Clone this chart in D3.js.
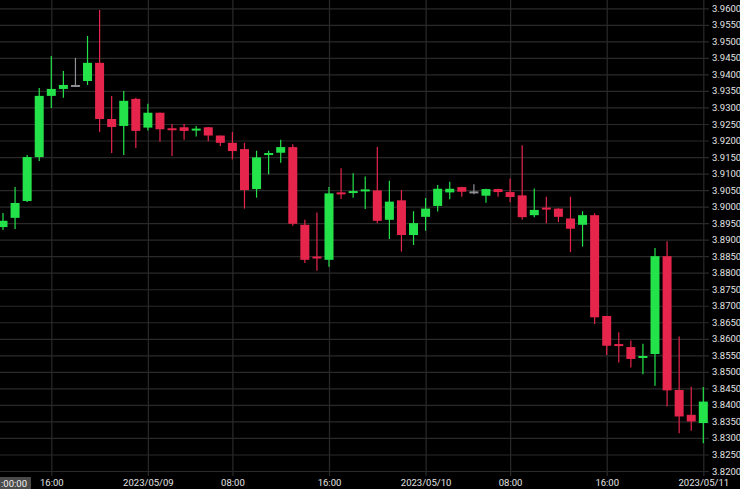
<!DOCTYPE html>
<html>
<head>
<meta charset="utf-8">
<script src="https://cdn.jsdelivr.net/npm/d3@7/dist/d3.min.js"></script>
<style>
  html, body { margin: 0; padding: 0; background: #000; }
  svg { display: block; }
</style>
</head>
<body>
<svg id="chart" width="740" height="489"></svg>
<script>
// ---- Data ----
const times = [
  "2023-05-08 12:00","2023-05-08 13:00","2023-05-08 14:00","2023-05-08 15:00","2023-05-08 16:00","2023-05-08 17:00",
  "2023-05-08 18:00","2023-05-08 19:00","2023-05-08 20:00","2023-05-08 21:00","2023-05-08 22:00","2023-05-08 23:00",
  "2023-05-09 00:00","2023-05-09 01:00","2023-05-09 02:00","2023-05-09 03:00","2023-05-09 04:00","2023-05-09 06:00",
  "2023-05-09 07:00","2023-05-09 08:00","2023-05-09 09:00","2023-05-09 10:00","2023-05-09 11:00","2023-05-09 12:00",
  "2023-05-09 13:00","2023-05-09 14:00","2023-05-09 15:00","2023-05-09 16:00","2023-05-09 17:00","2023-05-09 18:00",
  "2023-05-09 19:00","2023-05-09 20:00","2023-05-09 21:00","2023-05-09 22:00","2023-05-09 23:00",
  "2023-05-10 00:00","2023-05-10 01:00","2023-05-10 02:00","2023-05-10 03:00","2023-05-10 04:00","2023-05-10 06:00",
  "2023-05-10 07:00","2023-05-10 08:00","2023-05-10 09:00","2023-05-10 10:00","2023-05-10 11:00","2023-05-10 12:00",
  "2023-05-10 13:00","2023-05-10 14:00","2023-05-10 15:00","2023-05-10 16:00","2023-05-10 17:00","2023-05-10 18:00",
  "2023-05-10 19:00","2023-05-10 20:00","2023-05-10 21:00","2023-05-10 22:00","2023-05-10 23:00",
  "2023-05-11 00:00"
];
const open  = [3.8938,3.8966,3.9017,3.9150,3.9335,3.9356,3.9365,3.9380,3.9435,3.9265,3.9244,3.9326,3.9239,3.9284,3.9234,3.9240,3.9228,3.9240,3.9215,3.9193,3.9174,3.9053,3.9154,3.9163,3.9180,3.8945,3.8846,3.8839,3.9040,3.9039,3.9044,3.9049,3.8960,3.9019,3.8914,3.8969,3.9002,3.9043,3.9059,3.9043,3.9033,3.9053,3.9044,3.9034,3.8974,3.8994,3.8994,3.8964,3.8945,3.8974,3.8669,3.8581,3.8575,3.8540,3.8554,3.8850,3.8445,3.8370,3.8345];
const high  = [3.8981,3.9059,3.9156,3.9359,3.9456,3.9410,3.9450,3.9516,3.9595,3.9335,3.9350,3.9329,3.9311,3.9285,3.9250,3.9250,3.9244,3.9241,3.9215,3.9226,3.9193,3.9169,3.9169,3.9202,3.9189,3.8960,3.8982,3.9059,3.9116,3.9101,3.9091,3.9180,3.9078,3.9050,3.8986,3.9026,3.9065,3.9075,3.9060,3.9068,3.9054,3.9054,3.9085,3.9186,3.9055,3.9030,3.8995,3.9030,3.8986,3.8980,3.8670,3.8620,3.8595,3.8585,3.8875,3.8895,3.8607,3.8455,3.8454];
const low   = [3.8929,3.8932,3.9014,3.9138,3.9298,3.9329,3.9362,3.9368,3.9226,3.9162,3.9156,3.9177,3.9230,3.9196,3.9153,3.9202,3.9212,3.9198,3.9183,3.9143,3.8994,3.9027,3.9098,3.9133,3.8942,3.8829,3.8806,3.8818,3.9023,3.9027,3.8993,3.8950,3.8902,3.8864,3.8884,3.8927,3.8985,3.9022,3.9030,3.9037,3.9012,3.9030,3.9013,3.8960,3.8968,3.8950,3.8953,3.8862,3.8879,3.8645,3.8551,3.8528,3.8513,3.8493,3.8458,3.8395,3.8314,3.8322,3.8284];
const close = [3.8957,3.9011,3.9150,3.9335,3.9356,3.9368,3.9365,3.9435,3.9265,3.9241,3.9320,3.9229,3.9284,3.9234,3.9229,3.9229,3.9233,3.9215,3.9193,3.9168,3.9050,3.9149,3.9159,3.9180,3.8948,3.8839,3.8841,3.9040,3.9034,3.9044,3.9049,3.8957,3.9015,3.8914,3.8950,3.8994,3.9054,3.9054,3.9045,3.9043,3.9053,3.9044,3.9029,3.8968,3.8990,3.8989,3.8969,3.8933,3.8974,3.8665,3.8579,3.8575,3.8539,3.8545,3.8850,3.8444,3.8365,3.8350,3.8410];

const yTicks = [3.8200,3.8250,3.8300,3.8350,3.8400,3.8450,3.8500,3.8550,3.8600,3.8650,3.8700,3.8750,3.8800,3.8850,
                3.8900,3.8950,3.9000,3.9050,3.9100,3.9150,3.9200,3.9250,3.9300,3.9350,3.9400,3.9450,3.9500,3.9550,3.9600];
const xTickTimes  = ["2023-05-08 16:00","2023-05-09 00:00","2023-05-09 08:00","2023-05-09 16:00","2023-05-10 00:00","2023-05-10 08:00","2023-05-10 16:00","2023-05-11 00:00"];
const xTickLabels = ["16:00","2023/05/09","08:00","16:00","2023/05/10","08:00","16:00","2023/05/11"];
const cursorLabel = ":00:00";

// ---- Layout ----
const W = 740, H = 489;
const plotRight = 709, plotBottom = 476;
const UP = "#24e34a", DOWN = "#e6254c", FLAT = "#8e9096";
const GRID = "#2a2a2a";

const svg = d3.select("#chart");
svg.append("rect").attr("width", W).attr("height", H).attr("fill", "#000");

const x = d3.scalePoint().domain(times).range([3, 703.3]);
const y = d3.scaleLinear().domain([3.82, 3.96]).range([471, 8.3]);

// horizontal grid
const hg = svg.append("g").attr("transform", `translate(${plotRight},0)`)
  .call(d3.axisLeft(y).tickValues(yTicks).tickSize(plotRight).tickFormat(""));
hg.select(".domain").remove();
hg.selectAll("line").attr("stroke", GRID).attr("stroke-width", 1.2);

// vertical grid
const vg = svg.append("g").attr("transform", `translate(0,${plotBottom})`)
  .call(d3.axisTop(x).tickValues(xTickTimes).tickSize(plotBottom).tickFormat(""));
vg.select(".domain").remove();
vg.selectAll("line").attr("stroke", GRID).attr("stroke-width", 1.2);

// y axis labels
const ya = svg.append("g").attr("transform", `translate(${plotRight},0)`)
  .call(d3.axisRight(y).tickValues(yTicks).tickSize(0).tickPadding(3).tickFormat(d3.format(".4f")));
ya.select(".domain").remove();
ya.selectAll("text").attr("fill", "#e4e4e4").attr("font-family", "Roboto, sans-serif").attr("font-size", "9.5px");

// x axis labels
const labelMap = new Map(xTickTimes.map((t, i) => [t, xTickLabels[i]]));
const xa = svg.append("g").attr("transform", `translate(0,${plotBottom})`)
  .call(d3.axisBottom(x).tickValues(xTickTimes).tickSize(0).tickPadding(3).tickFormat(t => labelMap.get(t)));
xa.select(".domain").remove();
xa.selectAll("text").attr("fill", "#e4e4e4").attr("font-family", "Roboto, sans-serif").attr("font-size", "9.5px");

// cursor time label at left
svg.append("rect").attr("x", 0).attr("y", 477).attr("width", 31).attr("height", 12).attr("fill", "#4a4a4a");
svg.append("text").attr("x", 27).attr("y", 486.5).attr("text-anchor", "end")
  .attr("fill", "#f0f0f0").attr("font-family", "Roboto, sans-serif").attr("font-size", "9.5px").text(cursorLabel);

// candles
const data = times.map((t, i) => ({t, o: open[i], h: high[i], l: low[i], c: close[i]}));
const color = d => d.c > d.o ? UP : (d.c < d.o ? DOWN : FLAT);
const bodyW = 9;
const cg = svg.append("g");
const candle = cg.selectAll("g.candle").data(data).join("g").attr("class", "candle");
candle.append("line")
  .attr("x1", d => x(d.t)).attr("x2", d => x(d.t))
  .attr("y1", d => y(d.h)).attr("y2", d => y(d.l))
  .attr("stroke", color).attr("stroke-width", 1.2);
candle.append("rect")
  .attr("x", d => x(d.t) - bodyW / 2)
  .attr("width", bodyW)
  .attr("y", d => Math.min(y(d.o), y(d.c)) - (Math.abs(y(d.o) - y(d.c)) < 2 ? 1 : 0))
  .attr("height", d => Math.max(2, Math.abs(y(d.o) - y(d.c))))
  .attr("fill", color);
</script>
</body>
</html>
